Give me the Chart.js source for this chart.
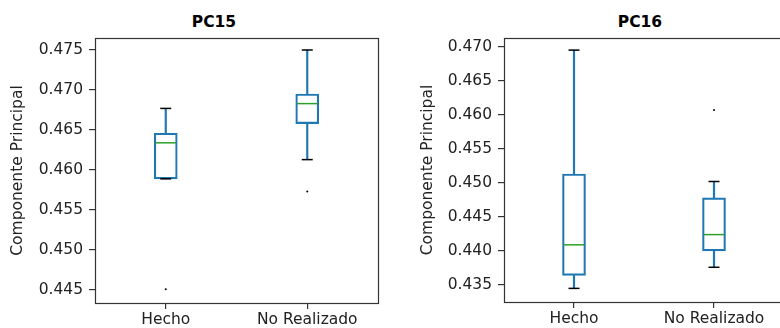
<!DOCTYPE html>
<html>
<head>
<meta charset="utf-8">
<script src="https://cdn.jsdelivr.net/npm/chart.js@4.4.1/dist/chart.umd.min.js"></script>
<style>
    body { margin: 0; background: #fff; }
    #wrap { position: relative; width: 780px; height: 328px; overflow: hidden; background: #fff; }
    .plot { position: absolute; top: 0; }
    .title { position: absolute; top: 13px; width: 100px; text-align: center; line-height: 18px;
             font: bold 15.5px 'DejaVu Sans', sans-serif; color: #000; }
</style>
</head>
<body>
<div id="wrap">
    <div class="title" style="left:164px;">PC15</div>
    <div class="title" style="left:590px;">PC16</div>
    <canvas id="pc15" class="plot" style="left:0;" width="390" height="328"></canvas>
    <canvas id="pc16" class="plot" style="left:390px;" width="410" height="328"></canvas>
</div>
<script>
// Categories
const categories = ['Hecho', 'No Realizado'];

// PC15 box stats (per category)
const pc15Min = [0.4589, 0.4613];
const pc15Q1 = [0.4589, 0.4658];
const pc15Median = [0.4634, 0.4683];
const pc15Q3 = [0.4646, 0.4695];
const pc15Max = [0.4677, 0.4750];
const pc15Outliers = [0.4451, 0.4573];
const pc15Ticks = [0.445, 0.450, 0.455, 0.460, 0.465, 0.470, 0.475];

// PC16 box stats
const pc16Min = [0.4345, 0.4376];
const pc16Q1 = [0.4364, 0.4400];
const pc16Median = [0.4409, 0.4424];
const pc16Q3 = [0.4513, 0.4478];
const pc16Max = [0.4695, 0.4502];
const pc16Outliers = [null, 0.4607];
const pc16Ticks = [0.435, 0.440, 0.445, 0.450, 0.455, 0.460, 0.465, 0.470];

const BLUE = '#1f77b4';
const GREEN = '#2ca02c';
const AXIS = '#333333';
const FONT = { family: "'DejaVu Sans', sans-serif", size: 15.5 };

// draws the full axes frame (matplotlib style)
const framePlugin = {
    id: 'frame',
    afterDraw(chart) {
        const { ctx, chartArea } = chart;
        ctx.save();
        ctx.strokeStyle = AXIS;
        ctx.lineWidth = 1.2;
        ctx.strokeRect(Math.round(chartArea.left) + 0.5, Math.round(chartArea.top) + 0.5,
            Math.round(chartArea.right - chartArea.left), Math.round(chartArea.bottom - chartArea.top));
        ctx.restore();
    }
};

function makeBoxChart(id, s, cfg) {
    const ctx = document.getElementById(id).getContext('2d');
    return new Chart(ctx, {
        type: 'bar',
        data: {
            labels: categories,
            datasets: [
                {
                    type: 'bar', data: categories.map((c, i) => [s.q3[i], s.max[i]]),
                    backgroundColor: BLUE, borderWidth: 0, barThickness: 1.5, grouped: false, order: 6
                },
                {
                    type: 'bar', data: categories.map((c, i) => [s.min[i], s.q1[i]]),
                    backgroundColor: BLUE, borderWidth: 0, barThickness: 1.5, grouped: false, order: 6
                },
                {
                    type: 'bar', data: categories.map((c, i) => [s.q1[i], s.q3[i]]),
                    backgroundColor: 'rgba(255,255,255,0)', borderColor: BLUE, borderWidth: 1.5,
                    borderSkipped: false, barThickness: 23, grouped: false, order: 5
                },
                {
                    type: 'line', data: s.median, showLine: false, pointStyle: 'line',
                    pointRadius: 10.5, pointHoverRadius: 10.5, pointBorderColor: GREEN, pointBorderWidth: 1.5, order: 4
                },
                {
                    type: 'line', data: s.max, showLine: false, pointStyle: 'line',
                    pointRadius: 5.5, pointHoverRadius: 5.5, pointBorderColor: '#000', pointBorderWidth: 1.5, order: 3
                },
                {
                    type: 'line', data: s.min, showLine: false, pointStyle: 'line',
                    pointRadius: 5.5, pointHoverRadius: 5.5, pointBorderColor: '#000', pointBorderWidth: 1.5, order: 3
                },
                {
                    type: 'line', data: s.outliers, showLine: false, pointStyle: 'circle',
                    pointRadius: 1, pointHoverRadius: 1, pointBackgroundColor: '#000', pointBorderWidth: 0, order: 2
                }
            ]
        },
        options: {
            responsive: false,
            animation: false,
            events: [],
            layout: { padding: { top: 38, right: cfg.padRight, left: 0, bottom: 0 } },
            plugins: { legend: { display: false }, tooltip: { enabled: false }, title: { display: false } },
            scales: {
                x: {
                    type: 'category',
                    offset: true,
                    grid: { display: true, offset: false, drawOnChartArea: false, drawTicks: true, tickLength: 6, color: AXIS, lineWidth: 1.2 },
                    border: { display: false },
                    ticks: { color: '#222', font: FONT, padding: 2, maxRotation: 0 },
                    afterFit: scale => {
                        scale.height = cfg.xHeight;
                        scale.paddingLeft = 0;
                        scale.paddingRight = 0;
                    }
                },
                y: {
                    type: 'linear',
                    min: cfg.yMin,
                    max: cfg.yMax,
                    afterBuildTicks: scale => { scale.ticks = cfg.ticks.map(v => ({ value: v })); },
                    grid: { display: true, drawOnChartArea: false, drawTicks: true, tickLength: 6, color: AXIS, lineWidth: 1.2 },
                    border: { display: false },
                    ticks: { color: '#222', font: FONT, padding: 6, callback: v => Number(v).toFixed(3) },
                    title: {
                        display: true, text: 'Componente Principal', color: '#222', font: FONT,
                        padding: { top: cfg.titlePad, bottom: 0 }
                    },
                    afterFit: scale => {
                        scale.width = cfg.yWidth;
                        scale.paddingTop = 0;
                        scale.paddingBottom = 0;
                    }
                }
            }
        },
        plugins: [framePlugin]
    });
}

makeBoxChart('pc15', {
    min: pc15Min, q1: pc15Q1, median: pc15Median, q3: pc15Q3, max: pc15Max, outliers: pc15Outliers
}, { yMin: 0.44338, yMax: 0.4765, ticks: pc15Ticks, padRight: 12, xHeight: 25, yWidth: 95, titlePad: 8.7 });

makeBoxChart('pc16', {
    min: pc16Min, q1: pc16Q1, median: pc16Median, q3: pc16Q3, max: pc16Max, outliers: pc16Outliers
}, { yMin: 0.4325, yMax: 0.47128, ticks: pc16Ticks, padRight: 16, xHeight: 26, yWidth: 114, titlePad: 28.7 });
</script>
</body>
</html>
